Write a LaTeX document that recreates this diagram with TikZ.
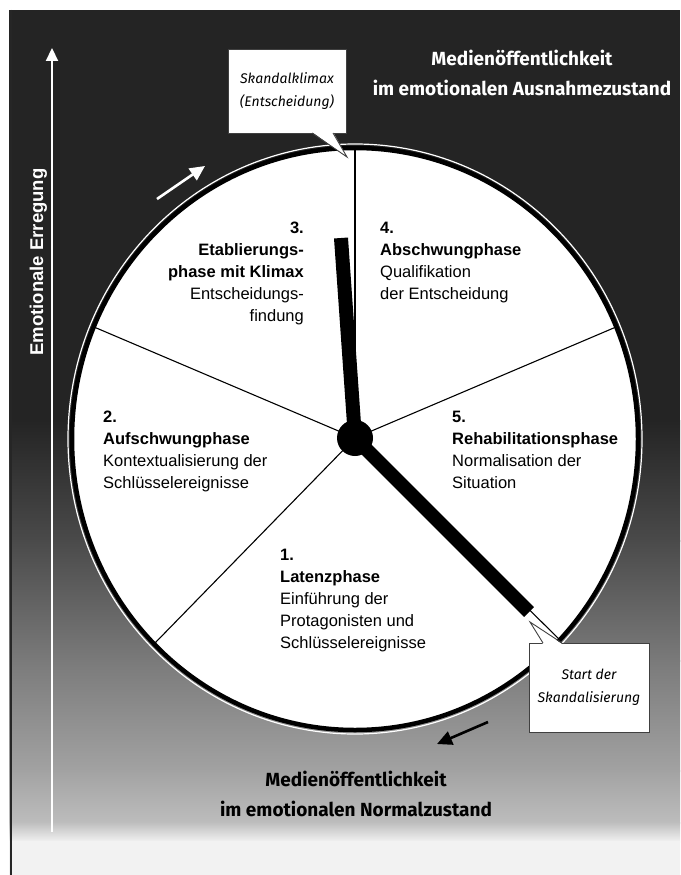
\documentclass[tikz,border=0pt]{standalone}
\usepackage{fontspec}
\setmainfont{Liberation Sans}
\newfontfamily\dinfont{Fira Sans}
\usetikzlibrary{arrows.meta,calc}
\definecolor{bgA}{HTML}{242424}
\definecolor{bgB}{HTML}{2E2E2E}
\definecolor{bgC}{HTML}{4A4A4A}
\definecolor{bgD}{HTML}{7A7A7A}
\definecolor{bgE}{HTML}{A2A2A2}
\definecolor{bgF}{HTML}{BDBDBD}
\definecolor{bgG}{HTML}{F2F2F2}
\begin{document}
\begin{tikzpicture}[x=1pt,y=-1pt,
  phase/.style={inner sep=0pt, font=\fontsize{16.5}{22}\selectfont},
  title/.style={inner sep=0pt, align=center, font=\dinfont\bfseries\fontsize{19}{29.5}\selectfont},
  callbox/.style={draw=black!75, line width=0.9pt, fill=white, inner sep=0pt, align=center,
     font=\dinfont\itshape\fontsize{14}{23}\selectfont},
  boxline/.style={draw=black!75, line width=0.9pt},
  divider/.style={line width=1.1pt},
  hand/.style={line width=14pt, line cap=butt},
  warrow/.style={-{Triangle[length=15pt,width=14pt]}, line width=2.6pt}]
\useasboundingbox (0,0) rectangle (680,875);
% background
\fill[white] (0,0) rectangle (680,875);
\fill[bgA] (9,10) rectangle (680,421);
\shade[top color=bgA, bottom color=bgC] (9,420) rectangle (680,541);
\shade[top color=bgC, bottom color=bgD] (9,540) rectangle (680,661);
\shade[top color=bgD, bottom color=bgE] (9,660) rectangle (680,771);
\shade[top color=bgE, bottom color=bgF] (9,770) rectangle (680,823);
\shade[top color=bgF, bottom color=bgG] (9,822) rectangle (680,842);
\fill[bgG] (9,841) rectangle (680,875);
\draw[line width=1.5pt, black!85] (11,10) -- (11,875);
% vertical axis
\coordinate (axb) at (52,832);
\coordinate (axt) at (52,48);
\draw[white, line width=2.2pt, -{Triangle[length=13pt,width=12pt]}] (axb) -- (axt);
\node[rotate=90, anchor=base, inner sep=0pt, text=white,
      font=\bfseries\fontsize{18.5}{20}\selectfont] (axl) at (43,262) {Emotionale Erregung};
% clock face
\fill[white] (355,439) ellipse [x radius=283, y radius=291];
\draw[white, line width=1.2pt] (355,439) ellipse [x radius=287, y radius=295];
\draw[black, line width=4.5pt] (355,439) ellipse [x radius=283, y radius=291];
\node[circle, fill=black, minimum size=36pt, inner sep=0pt] (hub) at (355,438) {};
\coordinate (dTop) at (355,150);
\coordinate (dUR) at (616,327);
\coordinate (dUL) at (94,327);
\coordinate (dLL) at (155,643);
\coordinate (dLR) at (560,640);
\foreach \p in {dTop,dUR,dUL,dLL,dLR} \draw[divider] (hub.center) -- (\p);
\coordinate (handA) at (341,238);
\coordinate (handB) at (529,612);
\draw[hand] (hub.center) -- (handA);
\draw[hand] (hub.center) -- (handB);
% phase texts
\node[phase, anchor=north east, align=right] (ph3) at (304,222)
  {\textbf{3.}\\\textbf{Etablierungs-}\\\textbf{phase mit Klimax}\\Entscheidungs-\\findung};
\node[phase, anchor=north west, align=left] (ph4) at (380,222)
  {\textbf{4.}\\\textbf{Abschwungphase}\\Qualifikation\\der Entscheidung};
\node[phase, anchor=north west, align=left] (ph2) at (103,411)
  {\textbf{2.}\\\textbf{Aufschwungphase}\\Kontextualisierung der\\Schlüsselereignisse};
\node[phase, anchor=north west, align=left] (ph5) at (452,411)
  {\textbf{5.}\\\textbf{Rehabilitationsphase}\\Normalisation der\\Situation};
\node[phase, anchor=north west, align=left] (ph1) at (280,549)
  {\textbf{1.}\\\textbf{Latenzphase}\\Einführung der\\Protagonisten und\\Schlüsselereignisse};
% callouts
\node[callbox, minimum width=118pt, minimum height=84pt] (cb1) at (287,91)
  {Skandalklimax\\(Entscheidung)};
\coordinate (tip1) at (347,157);
\fill[white] (312,132) -- (tip1) -- (333,132) -- cycle;
\draw[boxline] (312,133) -- (tip1) -- (333,133);
\node[callbox, minimum width=120pt, minimum height=89pt] (cb2) at (589,687.5)
  {Start der\\Skandalisierung};
\coordinate (tip2) at (530,622);
\fill[white] (543,644) -- (tip2) -- (562,644) -- cycle;
\draw[boxline] (543,643) -- (tip2) -- (562,643);
% direction arrows
\coordinate (a1s) at (157,199);
\coordinate (a1e) at (205,166);
\draw[warrow, white] (a1s) -- (a1e);
\coordinate (a2s) at (488,722);
\coordinate (a2e) at (437,744);
\draw[warrow, black] (a2s) -- (a2e);
% titles
\node[title, text=white] (tt) at (522,73)
  {Medienöffentlichkeit\\im emotionalen Ausnahmezustand};
\node[title, text=black] (tb) at (356,794)
  {Medienöffentlichkeit\\im emotionalen Normalzustand};
\end{tikzpicture}
\end{document}
